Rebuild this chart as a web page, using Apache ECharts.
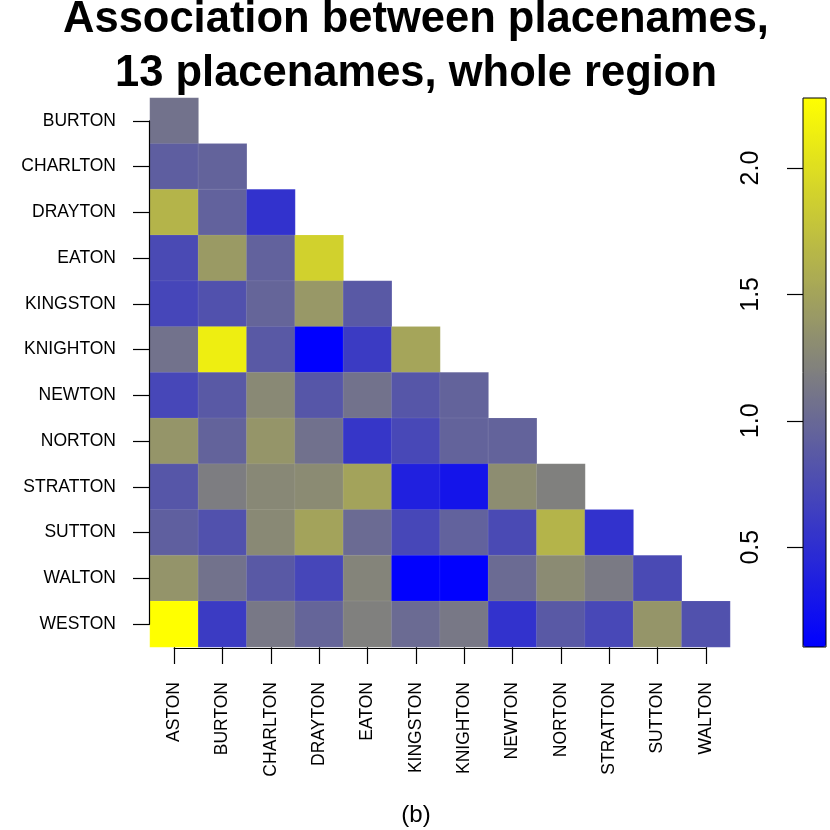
<!DOCTYPE html>
<html>
<head>
<meta charset="utf-8">
<script src="https://cdn.jsdelivr.net/npm/echarts@6/dist/echarts.min.js"></script>
<style>
  html, body { margin: 0; padding: 0; background: #fff; }
  #chart { width: 830px; height: 830px; }
</style>
</head>
<body>
<div id="chart"></div>
<script>
// columns (x) and rows (y) of the lower triangle
const colNames = ['ASTON', 'BURTON', 'CHARLTON', 'DRAYTON', 'EATON', 'KINGSTON',
  'KNIGHTON', 'NEWTON', 'NORTON', 'STRATTON', 'SUTTON', 'WALTON']
const rowNames = ['BURTON', 'CHARLTON', 'DRAYTON', 'EATON', 'KINGSTON', 'KNIGHTON',
  'NEWTON', 'NORTON', 'STRATTON', 'SUTTON', 'WALTON', 'WESTON']

// association values, row by row (row i has i+1 entries, starting at ASTON)
const burton   = [1.08]
const charlton = [0.91, 0.95]
const drayton  = [1.64, 0.94, 0.53]
const eaton    = [0.74, 1.42, 0.94, 1.89]
const kingston = [0.70, 0.80, 0.97, 1.40, 0.87]
const knighton = [1.08, 2.13, 0.87, 0.105, 0.61, 1.51]
const newton   = [0.71, 0.87, 1.28, 0.84, 1.08, 0.84, 0.95]
const norton   = [1.38, 0.95, 1.38, 1.07, 0.57, 0.72, 0.95, 0.95]
const stratton = [0.84, 1.17, 1.27, 1.29, 1.50, 0.38, 0.28, 1.31, 1.20]
const sutton   = [0.92, 0.80, 1.28, 1.50, 1.02, 0.71, 0.94, 0.74, 1.64, 0.53]
const walton   = [1.37, 1.08, 0.87, 0.70, 1.23, 0.11, 0.11, 1.02, 1.29, 1.15, 0.74]
const weston   = [2.277, 0.61, 1.13, 0.97, 1.20, 1.02, 1.13, 0.53, 0.87, 0.72, 1.38, 0.80]

const rows = [burton, charlton, drayton, eaton, kingston, knighton,
  newton, norton, stratton, sutton, walton, weston]

const colorTicks = [0.5, 1.0, 1.5, 2.0]
const scaleMin = 0.105
const scaleMax = 2.277

const cells = []
rows.forEach((vals, r) => {
  vals.forEach((v, c) => cells.push([c, r, v]))
})

const chart = echarts.init(document.getElementById('chart'), undefined, { renderer: 'canvas' })

const FONT = 'Liberation Sans'
const hidden = { show: false }
const titleStyle = { fontFamily: FONT, fontWeight: 'bold', fontSize: 43.5, color: '#000' }

chart.setOption({
  animation: false,
  title: [
    { text: 'Association between placenames,', left: 416, top: -2, padding: 0, textAlign: 'center', textStyle: titleStyle },
    { text: '13 placenames, whole region', left: 416, top: 52, padding: 0, textAlign: 'center', textStyle: titleStyle },
    {
      text: '(b)',
      left: 416,
      top: 803,
      padding: 0,
      textAlign: 'center',
      textStyle: { fontFamily: FONT, fontWeight: 'normal', fontSize: 24, color: '#000' },
    },
  ],
  grid: [
    // heatmap
    { left: 150, top: 98, width: 580, height: 549 },
    // y axis line (first to last tick), just left of the cells
    { left: 149, top: 120.9, width: 580, height: 503.25 },
    // x axis line (first to last tick), just below the cells
    { left: 174.2, top: 98, width: 531.6, height: 550 },
    // colour bar frame + ticks
    { left: 803, top: 98, width: 23, height: 549, show: true, borderColor: '#000', borderWidth: 1, backgroundColor: 'transparent', z: 10 },
  ],
  xAxis: [
    {
      gridIndex: 0,
      type: 'category',
      data: colNames,
      axisLine: hidden,
      axisTick: { show: true, alignWithLabel: true, length: 17, lineStyle: { color: '#000', width: 1.2 } },
      axisLabel: { rotate: 90, margin: 35, fontFamily: FONT, fontSize: 17.5, color: '#000', interval: 0 },
      splitLine: hidden,
    },
    { gridIndex: 1, type: 'value', min: 0, max: 1, show: false },
    {
      gridIndex: 2,
      type: 'value',
      min: 0,
      max: 1,
      z: 5,
      axisLine: { show: true, onZero: false, lineStyle: { color: '#000', width: 1.2 } },
      axisTick: hidden,
      axisLabel: hidden,
      splitLine: hidden,
    },
    { gridIndex: 3, type: 'value', min: 0, max: 1, show: false },
  ],
  yAxis: [
    {
      gridIndex: 0,
      type: 'category',
      data: rowNames,
      inverse: true,
      axisLine: hidden,
      axisTick: { show: true, alignWithLabel: true, length: 17, lineStyle: { color: '#000', width: 1.2 } },
      axisLabel: { margin: 34, fontFamily: FONT, fontSize: 17.5, color: '#000', interval: 0 },
      splitLine: hidden,
    },
    {
      gridIndex: 1,
      type: 'value',
      min: 0,
      max: 1,
      z: 5,
      axisLine: { show: true, onZero: false, lineStyle: { color: '#000', width: 1.2 } },
      axisTick: hidden,
      axisLabel: hidden,
      splitLine: hidden,
    },
    { gridIndex: 2, type: 'value', min: 0, max: 1, show: false },
    {
      gridIndex: 3,
      type: 'value',
      min: scaleMin,
      max: scaleMax,
      position: 'left',
      axisLine: hidden,
      axisTick: { show: true, length: 16, customValues: colorTicks, lineStyle: { color: '#000', width: 1.2 } },
      axisLabel: {
        customValues: colorTicks,
        rotate: 90,
        margin: 39,
        fontFamily: FONT,
        fontSize: 25,
        color: '#000',
        formatter: v => v.toFixed(1),
      },
      splitLine: hidden,
    },
  ],
  visualMap: {
    type: 'continuous',
    seriesIndex: 0,
    min: scaleMin,
    max: scaleMax,
    calculable: false,
    hoverLink: false,
    left: 803,
    top: 98,
    padding: 0,
    itemWidth: 23,
    itemHeight: 549,
    inRange: { color: ['#0000ff', '#7f7f7f', '#ffff00'] },
  },
  series: [
    {
      type: 'heatmap',
      xAxisIndex: 0,
      yAxisIndex: 0,
      data: cells,
      itemStyle: { borderWidth: 0.6, borderColor: 'rgba(255,255,255,0.15)' },
      emphasis: { disabled: true },
    },
  ],
})
</script>
</body>
</html>
